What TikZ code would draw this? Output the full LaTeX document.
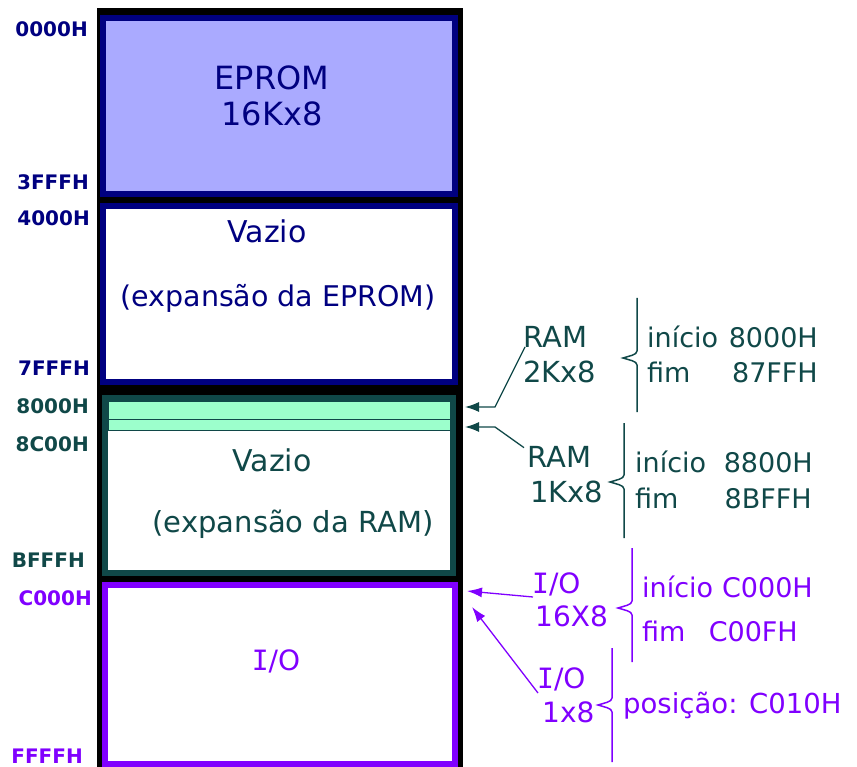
\documentclass[tikz,border=0pt]{standalone}
\usepackage{fontspec}
\setmainfont{DejaVu Sans}
\newfontfamily\iofont{DejaVu Sans Mono}
\usetikzlibrary{arrows.meta}

\definecolor{eprnavy}{RGB}{0,0,128}
\definecolor{eprfill}{RGB}{170,170,255}
\definecolor{ramteal}{RGB}{16,72,72}
\definecolor{ramgreen}{RGB}{156,255,204}
\definecolor{iopurple}{RGB}{128,0,255}

% I com serifas, /O redondo
\newcommand{\ioname}{{\iofont I}/O}
% chaveta: cor, x, topo, ponta, fundo
\newcommand{\addrbrace}[5]{%
  \draw[#1,line width=1.5pt] (#2,#3) -- (#2,#4-7)
    .. controls (#2,#4-3) and (#2-8,#4-2) .. (#2-14,#4)
    .. controls (#2-8,#4+2) and (#2,#4+3) .. (#2,#4+7) -- (#2,#5);}

\begin{document}
\begin{tikzpicture}[x=1pt,y=-1pt,
    membox/.style={line width=6pt,inner sep=0pt,outer sep=0pt},
    strip/.style={draw=ramteal,line width=1pt,fill=ramgreen,minimum width=342pt,inner sep=0pt,outer sep=0pt},
    addr/.style={anchor=base east,inner sep=0pt,font=\fontsize{20}{20}\selectfont\bfseries},
    maintxt/.style={anchor=base,inner sep=0pt,font=\fontsize{30}{30}\selectfont},
    sidetxt/.style={anchor=base west,inner sep=0pt,font=\fontsize{29}{29}\selectfont},
    infotxt/.style={anchor=base west,inner sep=0pt,font=\fontsize{27}{27}\selectfont},
    infoval/.style={infotxt,anchor=base east},
    ramarrow/.style={draw=ramteal,line width=1.3pt,-{Latex[length=14pt,width=10pt]}},
    ioarrow/.style={draw=iopurple,line width=1.3pt,-{Latex[length=15pt,width=10pt]}}]
  \useasboundingbox (0,0) rectangle (857,767);

  % mapa de memoria
  \node[fill=black,minimum width=366pt,minimum height=764pt,inner sep=0pt,outer sep=0pt] (frame) at (280,390) {};
  \node[membox,draw=eprnavy,fill=eprfill,minimum width=352pt,minimum height=176pt] (eprom) at (279,106) {};
  \node[membox,draw=eprnavy,fill=white,minimum width=352pt,minimum height=176pt] (eprexp) at (279,294) {};
  \node[membox,draw=ramteal,fill=white,minimum width=348pt,minimum height=175pt] (ramzone) at (279,485.5) {};
  \node[strip,minimum height=18pt] (ram2kblk) at (279,410) {};
  \node[strip,minimum height=11pt] (ram1kblk) at (279,424.5) {};
  \node[membox,draw=iopurple,fill=white,minimum width=350pt,minimum height=179pt] (iozone) at (280,674.5) {};

  \node[maintxt,text=eprnavy,font=\fontsize{32}{32}\selectfont] (eprname) at (272,90) {EPROM};
  \node[maintxt,text=eprnavy,font=\fontsize{32}{32}\selectfont] (eprsize) at (272,126) {16Kx8};
  \node[maintxt,text=eprnavy] (eprvazio) at (267,243) {Vazio};
  \node[maintxt,text=eprnavy,font=\fontsize{28.5}{28.5}\selectfont] (eprmore) at (278,307) {(expansão da EPROM)};
  \node[maintxt,text=ramteal] (ramvazio) at (272,471) {Vazio};
  \node[maintxt,text=ramteal,font=\fontsize{29}{29}\selectfont] (rammore) at (293,532) {(expansão da RAM)};
  \node[maintxt,text=iopurple,font=\fontsize{28}{28}\selectfont] (ioname) at (276,670) {\ioname};

  % enderecos
  \node[addr,text=eprnavy] (a0000) at (88,37) {0000H};
  \node[addr,text=eprnavy] (a3fff) at (89,190) {3FFFH};
  \node[addr,text=eprnavy] (a4000) at (90,226) {4000H};
  \node[addr,text=eprnavy] (a7fff) at (90,376) {7FFFH};
  \node[addr,text=ramteal] (a8000) at (89,413) {8000H};
  \node[addr,text=ramteal] (a8c00) at (89,451) {8C00H};
  \node[addr,text=ramteal] (abfff) at (85,567) {BFFFH};
  \node[addr,text=iopurple] (ac000) at (92,605) {C000H};
  \node[addr,text=iopurple] (affff) at (83,763) {FFFFH};

  % RAM 2Kx8
  \node[sidetxt,text=ramteal] (ram2ka) at (523,348) {RAM};
  \node[sidetxt,text=ramteal] (ram2kb) at (523,382) {2Kx8};
  \addrbrace{ramteal}{637}{298}{358}{412}
  \node[infotxt,text=ramteal] (ram2kini) at (647,348) {início};
  \node[infoval,text=ramteal] (ram2kbeg) at (818,348) {8000H};
  \node[infotxt,text=ramteal] (ram2kfim) at (647,382) {fim};
  \node[infoval,text=ramteal] (ram2kend) at (818,382) {87FFH};

  % RAM 1Kx8
  \node[sidetxt,text=ramteal] (ram1ka) at (527,467) {RAM};
  \node[sidetxt,text=ramteal] (ram1kb) at (530,502) {1Kx8};
  \addrbrace{ramteal}{624}{423}{482}{538}
  \node[infotxt,text=ramteal] (ram1kini) at (635,472) {início};
  \node[infoval,text=ramteal] (ram1kbeg) at (813,472) {8800H};
  \node[infotxt,text=ramteal] (ram1kfim) at (635,508) {fim};
  \node[infoval,text=ramteal] (ram1kend) at (812,508) {8BFFH};

  % I/O 16X8
  \node[sidetxt,text=iopurple,font=\fontsize{28}{28}\selectfont] (io16a) at (532,593) {\ioname};
  \node[sidetxt,text=iopurple,font=\fontsize{28}{28}\selectfont] (io16b) at (535,626) {16X8};
  \addrbrace{iopurple}{632}{548}{608}{662}
  \node[infotxt,text=iopurple] (io16ini) at (642,597) {início};
  \node[infoval,text=iopurple] (io16beg) at (813,597) {C000H};
  \node[infotxt,text=iopurple] (io16fim) at (642,641) {fim};
  \node[infoval,text=iopurple] (io16end) at (798,641) {C00FH};

  % I/O 1x8
  \node[sidetxt,text=iopurple,font=\fontsize{28}{28}\selectfont] (io1a) at (537,688) {\ioname};
  \node[sidetxt,text=iopurple,font=\fontsize{28}{28}\selectfont] (io1b) at (542,722) {1x8};
  \addrbrace{iopurple}{612}{648}{705}{762}
  \node[infotxt,text=iopurple,font=\fontsize{27.5}{27.5}\selectfont] (io1pos) at (623,713) {posição: C010H};

  % setas
  \path (ram2kblk.east -| frame.east) ++(2,-3) coordinate (ram2ktip) ++(30,0) coordinate (ram2kbend);
  \path (ram1kblk.east -| frame.east) ++(2,2.5) coordinate (ram1ktip) ++(30,0) coordinate (ram1kbend);
  \coordinate (io16tip) at (467,591);
  \coordinate (io1tip) at (472,607);
  \draw[ramarrow] ([shift={(2,-1)}]ram2ka.base west) -- (ram2kbend) -- (ram2ktip);
  \draw[ramarrow] ([shift={(-3,2)}]ram1ka.north west) -- (ram1kbend) -- (ram1ktip);
  \draw[ioarrow] ([shift={(1,4)}]io16a.base west) -- (io16tip);
  \draw[ioarrow] ([shift={(1,5)}]io1a.base west) -- (io1tip);
\end{tikzpicture}
\end{document}
